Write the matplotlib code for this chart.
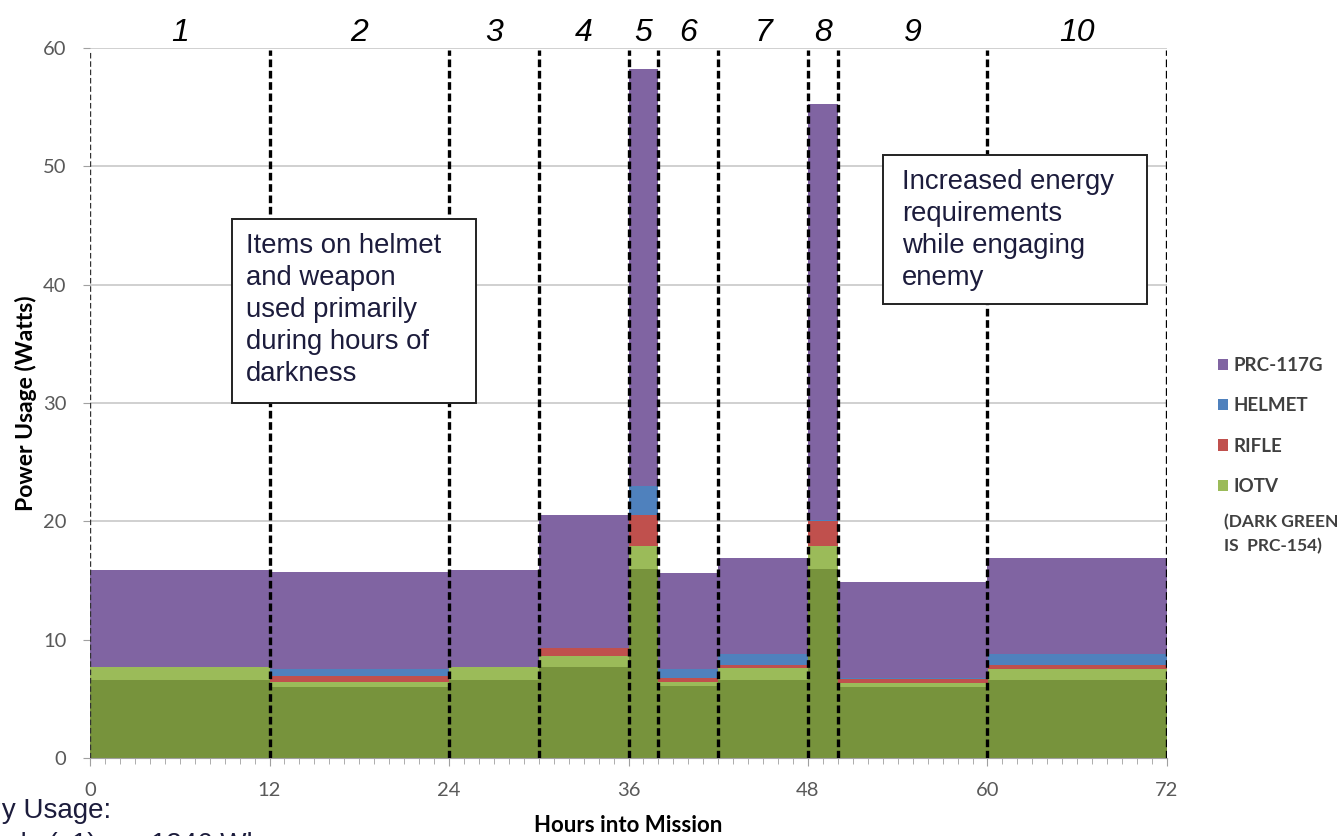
import matplotlib.pyplot as plt
import numpy as np
from matplotlib.patches import Patch, Rectangle

# mission segments (hours)
seg_labels = ["1", "2", "3", "4", "5", "6", "7", "8", "9", "10"]
seg_start = [0, 12, 24, 30, 36, 38, 42, 48, 50, 60]
seg_hours = [12, 12, 6, 6, 2, 4, 6, 2, 10, 12]

# power per device (W), stacked bottom -> top
prc154 = [6.6, 6.0, 6.6, 7.7, 16.0, 6.1, 6.6, 16.0, 6.0, 6.6]
iotv = [1.1, 0.4, 1.1, 0.9, 1.9, 0.3, 1.0, 1.9, 0.35, 0.95]
rifle = [0.0, 0.5, 0.0, 0.7, 2.6, 0.4, 0.3, 2.1, 0.35, 0.35]
helmet = [0.0, 0.65, 0.0, 0.0, 2.5, 0.7, 0.85, 0.1, 0.05, 0.85]
prc117g = [8.15, 8.15, 8.15, 11.2, 35.2, 8.15, 8.15, 35.2, 8.1, 8.15]

x_ticks = [0, 12, 24, 36, 48, 60, 72]
y_ticks = [0, 10, 20, 30, 40, 50, 60]

TXT = "#1c1c3c"
TICK = "#595959"
CAL = ["Lato", "DejaVu Sans"]
ARIAL = ["Liberation Sans", "DejaVu Sans"]

fig = plt.figure(figsize=(13.44, 8.36), dpi=100)
ax = fig.add_axes([90 / 1344, 1 - 758 / 836, (1167 - 90) / 1344, (758 - 48) / 836])

layers = [
    (prc154, "#77933C", None),
    (iotv, "#9BBB59", "IOTV"),
    (rifle, "#C0504D", "RIFLE"),
    (helmet, "#4F81BD", "HELMET"),
    (prc117g, "#8064A2", "PRC-117G"),
]
bottom = np.zeros(len(seg_start))
for vals, color, name in layers:
    ax.bar(seg_start, vals, width=seg_hours, bottom=bottom, align="edge",
           color=color, linewidth=0, zorder=2)
    bottom += np.array(vals)

# segment boundaries
bounds = seg_start + [seg_start[-1] + seg_hours[-1]]
ax.vlines(bounds[1:], 0, 59.8, colors="black", linewidth=2.4,
          linestyles=(0, (2.3, 1.1)), zorder=3)
ax.vlines(bounds[0], 0, 59.8, colors="#333333", linewidth=1.0,
          linestyles=(0, (4, 2)), zorder=3)

for s, h, lab in zip(seg_start, seg_hours, seg_labels):
    ax.text(s + h / 2, 61.3, lab, ha="center", va="center", fontsize=23,
            style="italic", family=ARIAL, color="black", clip_on=False)

ax.set_xlim(0, 72)
ax.set_ylim(0, 60)
ax.set_xticks(x_ticks)
ax.set_xticks(np.arange(0, 73, 1), minor=True)
ax.set_yticks(y_ticks)
ax.yaxis.grid(True, color="#c8c8c8", linewidth=1.2, zorder=0)
ax.set_axisbelow(True)
for side in ["top", "right", "left"]:
    ax.spines[side].set_visible(False)
ax.spines["bottom"].set_color("#a0a0a0")
ax.tick_params(axis="x", which="major", length=6, color="#a0a0a0", labelsize=14.5,
               labelcolor=TICK, pad=11)
ax.tick_params(axis="x", which="minor", length=4, color="#a0a0a0")
ax.tick_params(axis="y", length=5, color="#a0a0a0", labelsize=14.5, labelcolor=TICK, pad=12)
for t in ax.get_xticklabels() + ax.get_yticklabels():
    t.set_family(CAL)

ax.set_ylabel("Power Usage (Watts)", fontsize=16.5, fontweight="bold", family=CAL,
              color="black", labelpad=4)
ax.set_xlabel("Hours into Mission", fontsize=16, fontweight="bold", family=CAL,
              color="black", labelpad=12)

# callout boxes
ax.add_patch(Rectangle((9.5, 30.0), 16.3, 15.55, facecolor="white",
                       edgecolor="#222222", linewidth=1.4, zorder=5, clip_on=False))
ax.text(10.45, 44.4, "Items on helmet\nand weapon\nused primarily\nduring hours of\ndarkness",
        ha="left", va="top", fontsize=19.8, family=ARIAL, color=TXT,
        linespacing=1.3, zorder=6)
ax.add_patch(Rectangle((53.0, 38.4), 17.65, 12.6, facecolor="white",
                       edgecolor="#222222", linewidth=1.4, zorder=5, clip_on=False))
ax.text(54.3, 49.8, "Increased energy\nrequirements\nwhile engaging\nenemy",
        ha="left", va="top", fontsize=19.8, family=ARIAL, color=TXT,
        linespacing=1.3, zorder=6)

handles = [Patch(facecolor=c, edgecolor="none", label=n)
           for vals, c, n in layers[::-1] if n is not None]
fig.legend(handles=handles, loc="upper left", bbox_to_anchor=(1201 / 1344, 1 - 340 / 836),
           frameon=False, handlelength=0.55, handleheight=0.55, handletextpad=0.3,
           labelspacing=1.25, prop={"family": CAL, "weight": "bold", "size": 13.5},
           labelcolor="#404040")
fig.text(1224 / 1344, 1 - 534 / 836, "(DARK GREEN\nIS  PRC-154)", ha="left", va="center",
         fontsize=12.5, fontweight="bold", family=CAL, color="#404040", linespacing=1.6)

# text cut off at the bottom-left edge of the original slide
fig.text(111 / 1344, 1 - 818 / 836, "Energy Usage:", ha="right", va="baseline",
         fontsize=20, family=ARIAL, color=TXT)
fig.text(-4 / 1344, 1 - 852 / 836, "ody (x1)       1246 Wh", ha="left", va="baseline",
         fontsize=20, family=ARIAL, color=TXT)

fig.savefig("out.png", dpi=100)
